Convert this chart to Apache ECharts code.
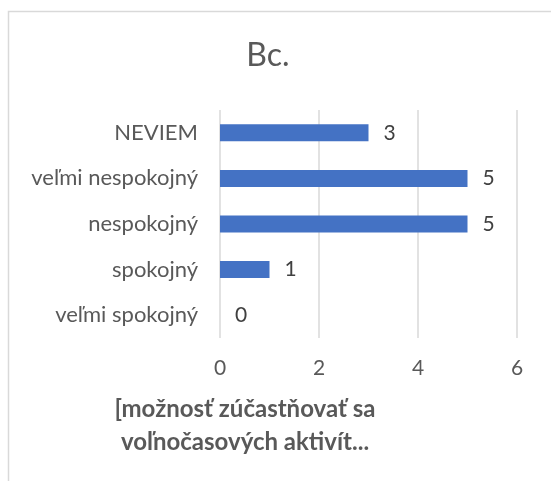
<!DOCTYPE html>
<html>
<head>
<meta charset="utf-8">
<script src="https://cdn.jsdelivr.net/npm/echarts@6/dist/echarts.min.js"></script>
<style>
  html, body { margin: 0; padding: 0; background: #fff; }
  #chart { width: 551px; height: 481px; }
</style>
</head>
<body>
<div id="chart"></div>
<script>
// kategórie odpovedí (zdola nahor, ako ich kreslí ECharts)
var categories = ["veľmi spokojný", "spokojný", "nespokojný", "veľmi nespokojný", "NEVIEM"];
var counts = [0, 1, 5, 5, 3];
var xTicks = [0, 2, 4, 6];
var chartTitle = "Bc.";
var axisTitle = "[možnosť zúčastňovať sa\nvoľnočasových aktivít...";

var font = "Lato";
var myChart = echarts.init(document.getElementById("chart"));
myChart.setOption({
  backgroundColor: "#fff",
  animation: false,
  title: {
    text: chartTitle,
    left: 263,
    top: 35,
    textAlign: "center",
    textStyle: { color: "#595959", fontSize: 32, fontWeight: "normal", fontFamily: font }
  },
  grid: { left: 220, right: 34, top: 110, bottom: 143, containLabel: false },
  xAxis: {
    type: "value",
    min: xTicks[0],
    max: xTicks[xTicks.length - 1],
    interval: 2,
    axisLine: { show: false },
    axisTick: { show: false },
    splitLine: { show: true, lineStyle: { color: "#d9d9d9", width: 1.5 } },
    axisLabel: { color: "#595959", fontSize: 21, fontFamily: font, margin: 20 }
  },
  yAxis: {
    type: "category",
    data: categories,
    axisLine: { show: false },
    axisTick: { show: false },
    axisLabel: { color: "#595959", fontSize: 22, fontFamily: font, margin: 22 }
  },
  series: [{
    type: "bar",
    data: counts,
    barWidth: 17,
    itemStyle: { color: "#4472c4" },
    label: {
      show: true,
      position: "right",
      distance: 15,
      color: "#404040",
      fontSize: 21,
      fontFamily: font
    }
  }],
  graphic: [
    {
      type: "rect",
      silent: true,
      shape: { x: 8.5, y: 11.5, width: 700, height: 600 },
      style: { fill: "none", stroke: "#d9d9d9", lineWidth: 1.5 }
    },
    {
      type: "text",
      silent: true,
      x: 245,
      y: 393,
      style: {
        text: axisTitle,
        textAlign: "center",
        fill: "#595959",
        font: "bold 24px " + font,
        lineHeight: 33
      }
    }
  ]
});
</script>
</body>
</html>
